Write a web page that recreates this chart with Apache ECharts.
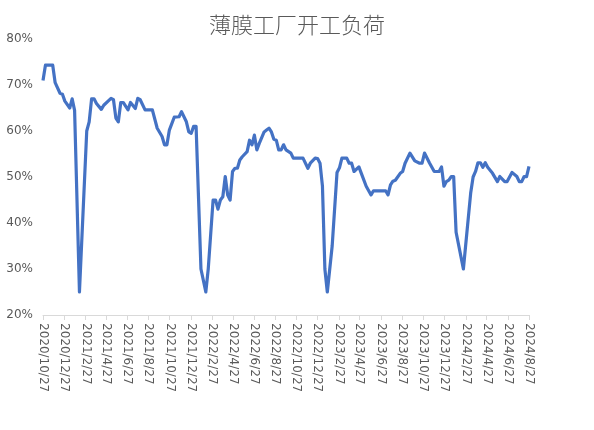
<!DOCTYPE html>
<html>
<head>
<meta charset="utf-8">
<script src="https://cdn.jsdelivr.net/npm/echarts@6/dist/echarts.min.js"></script>
<style>
html,body{margin:0;padding:0;background:#fff;}
#main{width:594px;height:430px;}
</style>
</head>
<body>
<div id="main"></div>
<script>
//标题
var title = '薄膜工厂开工负荷';
//起止日期
var startDate = '2020/10/27';
var endDate = '2024/8/27';
//周序号(自2020/10/27起第几周)
var weekNo = [0,1,4,5,7,8,9,11,12,13,15,18,19,20,21,22,24,25,27,28,29,30,31,32,33,35,36,38,39,40,
    42,45,47,49,50,51,52,54,56,57,59,60,61,62,63,65,67,68,70,71,72,73,74,75,76,77,78,79,80,81,
    82,84,85,86,87,88,89,91,92,93,94,95,96,97,98,99,100,102,103,107,109,110,112,113,114,115,116,117,119,121,
    122,123,125,126,127,128,130,131,133,135,136,141,142,143,144,145,147,148,149,151,153,155,156,157,159,161,163,164,165,166,
    167,168,169,170,173,176,177,178,179,180,181,182,183,185,187,188,190,191,193,195,196,197,198,199,200];
//开工负荷(%)
var load = [71,74.3,74.3,70.5,68.2,68,66.5,65,67,64.5,25,60,62,67,67,66,64.7,65.6,66.6,67.1,66.8,62.8,62,66.2,66.2,64.6,66.2,64.9,67.1,66.8,
    64.6,64.6,60.6,58.8,57,57,60.2,63,63.1,64.2,62,59.8,59.5,61,61,30,25,30,45,45,43,45,45.7,50.1,46.1,45,51.2,51.9,51.9,53.7,
    54.4,55.5,58,57,59.1,55.9,57.3,59.8,60.2,60.6,59.8,58.2,58,55.9,55.9,57,55.9,55.2,54.1,54.1,51.9,53,54.1,54,53,48,30,25,35,51,
    52,54.1,54.1,53,53,51.2,52.2,50.8,48,46.1,47,47,46.1,48.3,49.1,49.3,50.8,51.2,53,55.2,53.5,53,53,55.2,53.1,51.2,51.2,52.2,48,49,
    49.3,50.1,50.1,38,30,46.5,50,51.2,53.1,53.1,52.1,53.1,52.1,50.8,49,50.1,49,49,51,50.1,49,49,50.1,50.1,52.3];
//横轴刻度标签
var tickLabels = ['2020/10/27','2020/12/27','2021/2/27','2021/4/27','2021/6/27','2021/8/27','2021/10/27','2021/12/27',
    '2022/2/27','2022/4/27','2022/6/27','2022/8/27','2022/10/27','2022/12/27','2023/2/27','2023/4/27','2023/6/27',
    '2023/8/27','2023/10/27','2023/12/27','2024/2/27','2024/4/27','2024/6/27','2024/8/27'];

//按天生成类目
function toDate(s){
    var p = s.split('/');
    return Date.UTC(+p[0], +p[1]-1, +p[2]);
}
var days = [];
for(var t=toDate(startDate),end=toDate(endDate);t<=end;t+=86400000){
    var d = new Date(t);
    days.push(d.getUTCFullYear()+'/'+(d.getUTCMonth()+1)+'/'+d.getUTCDate());
}
var seriesData = [];
for(var i=0,len=weekNo.length;i<len;i++){
    seriesData.push([weekNo[i]*7, load[i]]);
}
function isTick(index, value){
    return tickLabels.indexOf(value) >= 0;
}

var e = echarts.init(document.getElementById('main'));
var option = {
    animation: false,
    title: {
        text: title, left: 'center', top: 14, padding: 0,
        textStyle: {color:'#595959', fontSize:22, fontWeight:300, fontFamily:'"Noto Sans CJK SC", sans-serif'}
    },
    grid: {left:43, right:65, top:39, bottom:115, containLabel:false, outerBoundsMode:'none'},
    xAxis: {
        type: 'category',
        data: days,
        boundaryGap: false,
        axisLine: {lineStyle:{color:'#d9d9d9'}},
        axisTick: {show:true, interval:isTick, length:5, lineStyle:{color:'#d9d9d9'}},
        axisLabel: {interval:isTick, rotate:-90, margin:8, color:'#595959', fontSize:12, fontFamily:'"DejaVu Sans", sans-serif'},
        splitLine: {show:false}
    },
    yAxis: {
        type: 'value',
        min: 20, max: 80, interval: 10,
        axisLine: {show:false},
        axisTick: {show:false},
        splitLine: {show:false},
        axisLabel: {formatter:'{value}%', margin:10, color:'#595959', fontSize:12, fontFamily:'"DejaVu Sans", sans-serif'}
    },
    series: [
        {
            name: title,
            type: 'line',
            data: seriesData,
            showSymbol: false,
            lineStyle: {color:'#4472C4', width:3.2, join:'round'},
            itemStyle: {color:'#4472C4'}
        }
    ]
};
e.setOption(option);
</script>
</body>
</html>
